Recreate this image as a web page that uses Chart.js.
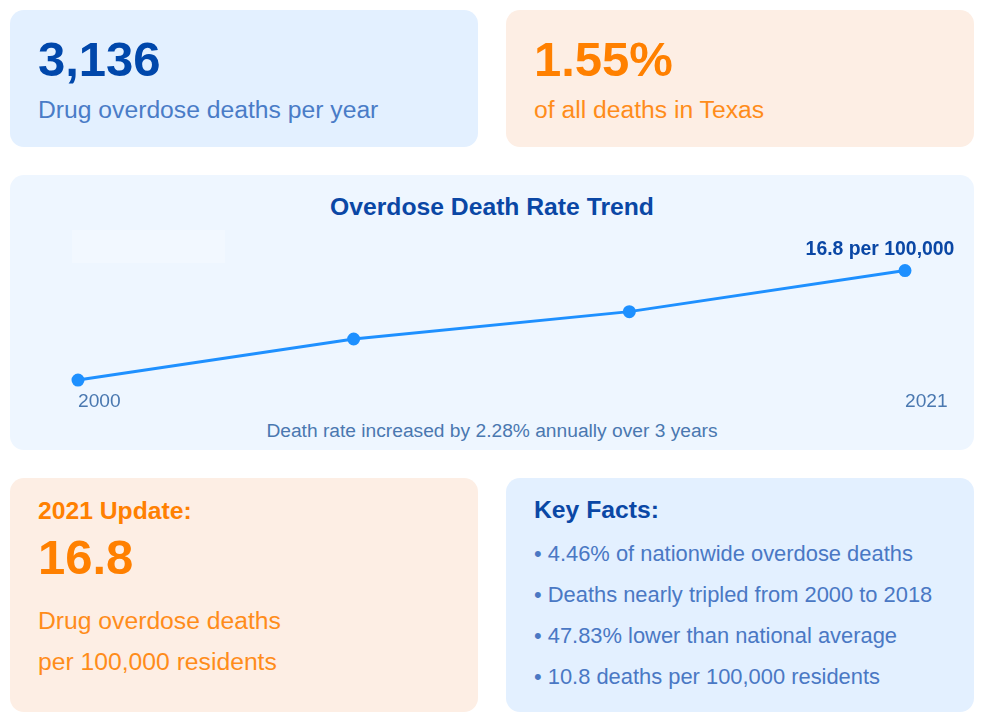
<!DOCTYPE html>
<html>
<head>
<meta charset="utf-8">
<script src="https://cdn.jsdelivr.net/npm/chart.js@4.4.1/dist/chart.umd.min.js"></script>
<style>
  html, body { margin: 0; padding: 0; background: #ffffff; }
  body { width: 982px; height: 721px; position: relative; overflow: hidden;
         font-family: Arial, "Liberation Sans", sans-serif; }
  .card { position: absolute; border-radius: 14px; }
  .blue { background: #e3f0ff; }
  .orange { background: #fdeee4; }
  .t { position: absolute; white-space: nowrap; line-height: 1; }
  .big { font-size: 49px; font-weight: bold; }
  .desc { font-size: 24.7px; }
  .head { font-size: 24.7px; font-weight: bold; }
  .fact { font-size: 21.9px; color: #4a78c4; left: 534px; }
</style>
</head>
<body>
  <div class="card blue" style="left:10px;top:10px;width:468px;height:137px;"></div>
  <div class="t big" style="left:38px;top:35px;color:#0047ab;">3,136</div>
  <div class="t desc" style="left:38px;top:98px;color:#4a7cc7;">Drug overdose deaths per year</div>

  <div class="card orange" style="left:506px;top:10px;width:468px;height:137px;"></div>
  <div class="t big" style="left:534px;top:35px;color:#ff8000;">1.55%</div>
  <div class="t desc" style="left:534px;top:98px;color:#ff8c1a;">of all deaths in Texas</div>

  <div class="card" style="left:10px;top:175px;width:964px;height:275px;background:#eef6ff;"></div>
  <div style="position:absolute;left:72px;top:230px;width:153px;height:33px;background:rgba(255,255,255,0.25);"></div>
  <div class="t head" style="left:10px;width:964px;text-align:center;top:195px;color:#0a47a5;">Overdose Death Rate Trend</div>
  <div style="position:absolute;left:10px;top:240px;width:964px;height:177px;">
    <canvas id="trend"></canvas>
  </div>
  <div class="t" style="left:10px;width:964px;text-align:center;top:421px;font-size:19.2px;color:#4a78b0;">Death rate increased by 2.28% annually over 3 years</div>

  <div class="card orange" style="left:10px;top:478px;width:468px;height:234px;"></div>
  <div class="t head" style="left:38px;top:499px;color:#ff8000;">2021 Update:</div>
  <div class="t big" style="left:38px;top:533px;color:#ff8000;">16.8</div>
  <div class="t desc" style="left:38px;top:609px;color:#ff8c1a;">Drug overdose deaths</div>
  <div class="t desc" style="left:38px;top:650px;color:#ff8c1a;">per 100,000 residents</div>

  <div class="card blue" style="left:506px;top:478px;width:468px;height:234px;"></div>
  <div class="t head" style="left:534px;top:498px;color:#0a47a5;">Key Facts:</div>
  <div class="t fact" style="top:543px;">• 4.46% of nationwide overdose deaths</div>
  <div class="t fact" style="top:584px;">• Deaths nearly tripled from 2000 to 2018</div>
  <div class="t fact" style="top:625px;">• 47.83% lower than national average</div>
  <div class="t fact" style="top:666px;">• 10.8 deaths per 100,000 residents</div>

<script>
var years = ['2000', '2010', '2018', '2021']
var rates = [15.68, 16.1, 16.38, 16.8]
var lastLabel = '16.8 per 100,000'

// label over the newest point
var endLabel = {
    id: 'endLabel',
    afterDatasetsDraw: function(chart) {
        var meta = chart.getDatasetMeta(0)
        var pt = meta.data[meta.data.length - 1]
        var ctx = chart.ctx
        ctx.save()
        ctx.font = 'bold 19.4px Arial, "Liberation Sans", sans-serif'
        ctx.fillStyle = '#0a47a5'
        ctx.textAlign = 'center'
        ctx.textBaseline = 'middle'
        ctx.fillText(lastLabel, pt.x - 25, pt.y - 21)
        ctx.restore()
    }
}

var ctx = document.getElementById('trend').getContext('2d');
var trend = new Chart(ctx, {
    type: 'line',
    data: {
        labels: years,
        datasets: [{
            data: rates,
            borderColor: '#1e90ff',
            backgroundColor: '#1e90ff',
            borderWidth: 3,
            pointRadius: 5,
            pointHoverRadius: 5,
            tension: 0,
            clip: false
        }]
    },
    options: {
        responsive: true,
        maintainAspectRatio: false,
        animation: false,
        layout: {
            padding: { left: 68, right: 69, top: 11, bottom: 0 }
        },
        plugins: {
            legend: { display: false },
            tooltip: { enabled: false }
        },
        scales: {
            x: {
                grid: { display: false, drawTicks: false },
                border: { display: false },
                ticks: {
                    align: 'start',
                    padding: 4,
                    maxRotation: 0,
                    autoSkip: false,
                    color: '#4a78b0',
                    font: { family: 'Arial, "Liberation Sans", sans-serif', size: 19.2 },
                    callback: function(v, i, ticks) {
                        return (i === 0 || i === ticks.length - 1) ? years[i] : ''
                    }
                }
            },
            y: {
                display: false,
                min: 15.62,
                max: 17.0
            }
        }
    },
    plugins: [endLabel]
});
</script>
</body>
</html>
